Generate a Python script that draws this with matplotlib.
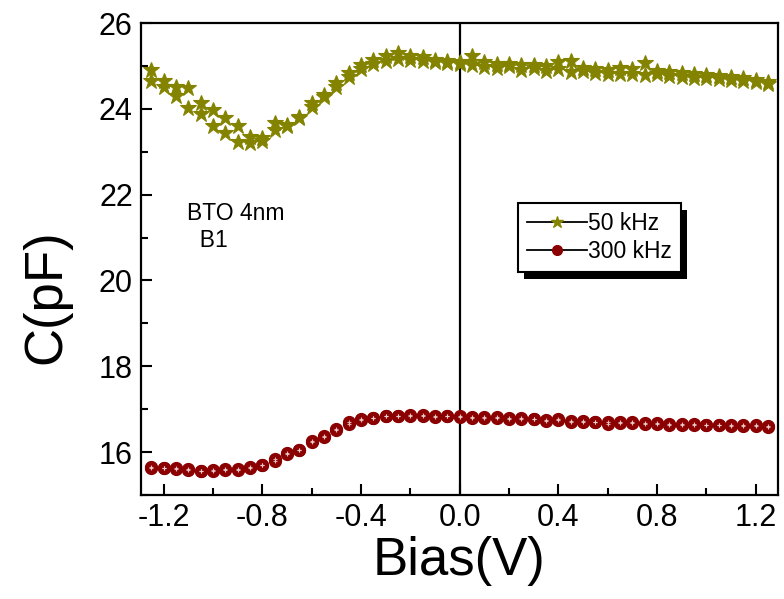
import matplotlib
matplotlib.use("Agg")
import matplotlib.pyplot as plt
from matplotlib.lines import Line2D
from matplotlib.patches import Rectangle
from matplotlib.ticker import MultipleLocator

plt.rcParams['font.family'] = ['Liberation Sans', 'DejaVu Sans']

# Bias sweep points (V)
bias = [-1.25, -1.20, -1.15, -1.10, -1.05, -1.00, -0.95, -0.90, -0.85, -0.80,
        -0.75, -0.70, -0.65, -0.60, -0.55, -0.50, -0.45, -0.40, -0.35, -0.30,
        -0.25, -0.20, -0.15, -0.10, -0.05, 0.00, 0.05, 0.10, 0.15, 0.20,
        0.25, 0.30, 0.35, 0.40, 0.45, 0.50, 0.55, 0.60, 0.65, 0.70,
        0.75, 0.80, 0.85, 0.90, 0.95, 1.00, 1.05, 1.10, 1.15, 1.20, 1.25]

# 50 kHz capacitance (pF), two sweep directions
c50_up = [24.91, 24.65, 24.50, 24.48, 24.13, 23.98, 23.78, 23.61, 23.35, 23.31,
          23.67, 23.63, 23.82, 24.13, 24.33, 24.60, 24.83, 25.01, 25.13, 25.22,
          25.29, 25.24, 25.21, 25.13, 25.11, 25.08, 25.22, 25.08, 25.05, 25.05,
          25.02, 25.03, 25.00, 25.10, 25.12, 24.95, 24.92, 24.90, 24.95, 24.92,
          25.07, 24.88, 24.85, 24.83, 24.80, 24.78, 24.76, 24.73, 24.72, 24.68, 24.63]
c50_down = [24.64, 24.50, 24.29, 24.02, 23.88, 23.59, 23.43, 23.22, 23.20, 23.25,
            23.51, 23.60, 23.78, 24.05, 24.28, 24.52, 24.74, 24.92, 25.04, 25.12,
            25.16, 25.14, 25.12, 25.08, 25.06, 25.05, 25.02, 24.98, 24.96, 24.99,
            24.90, 24.94, 24.88, 24.92, 24.86, 24.88, 24.84, 24.82, 24.80, 24.82,
            24.78, 24.80, 24.76, 24.74, 24.72, 24.72, 24.69, 24.68, 24.66, 24.62, 24.58]

# 300 kHz capacitance (pF), two sweep directions
c300_up = [15.65, 15.63, 15.62, 15.60, 15.57, 15.59, 15.60, 15.60, 15.65, 15.71,
           15.83, 15.98, 16.06, 16.26, 16.37, 16.53, 16.69, 16.76, 16.80, 16.84,
           16.84, 16.86, 16.86, 16.83, 16.84, 16.84, 16.82, 16.81, 16.81, 16.80,
           16.79, 16.78, 16.75, 16.76, 16.73, 16.72, 16.71, 16.70, 16.69, 16.69,
           16.68, 16.67, 16.66, 16.66, 16.65, 16.64, 16.63, 16.63, 16.62, 16.62, 16.61]
c300_down = [15.63, 15.62, 15.60, 15.58, 15.56, 15.57, 15.58, 15.59, 15.63, 15.70,
             15.80, 15.95, 16.05, 16.23, 16.36, 16.51, 16.66, 16.75, 16.79, 16.83,
             16.83, 16.85, 16.85, 16.82, 16.83, 16.82, 16.80, 16.79, 16.80, 16.78,
             16.77, 16.76, 16.73, 16.74, 16.71, 16.70, 16.69, 16.66, 16.67, 16.67,
             16.66, 16.65, 16.64, 16.64, 16.63, 16.62, 16.62, 16.61, 16.60, 16.60, 16.59]

series_labels = ['50 kHz', '300 kHz']
sample_lines = ['BTO 4nm', '  B1']
xticks = [-1.2, -0.8, -0.4, 0.0, 0.4, 0.8, 1.2]
yticks = [16, 18, 20, 22, 24, 26]

olive = '#838300'
darkred = '#8b0000'

fig = plt.figure(figsize=(7.84, 5.99), dpi=100)
ax = fig.add_axes([0.180, 0.1736, 0.812, 0.788])

for c in (c50_down, c50_up):
    ax.plot(bias, c, linestyle='none', marker='*', markersize=12,
            color=olive, markeredgewidth=0.8, zorder=3)

for c in (c300_down, c300_up):
    ax.plot(bias, c, linestyle='none', marker='o', markersize=8.5,
            markerfacecolor=darkred, markeredgecolor=darkred, zorder=3)
    ax.plot(bias, c, linestyle='none', marker='+', markersize=3,
            markeredgewidth=0.8, color='#f0d8d8', alpha=0.8, zorder=3.1)

ax.axvline(0.0, color='black', linewidth=1.6, zorder=2)

ax.set_xlim(-1.292, 1.29)
ax.set_ylim(15, 26)
ax.set_xticks(xticks)
ax.set_xticklabels([f'{t:.1f}' for t in xticks])
ax.set_yticks(yticks)
ax.xaxis.set_minor_locator(MultipleLocator(0.2))
ax.yaxis.set_minor_locator(MultipleLocator(1))
ax.tick_params(which='both', direction='in', top=False, right=False,
               width=1.5, labelsize=22)
ax.tick_params(which='major', length=8, pad=6)
ax.tick_params(which='minor', length=5)
for s in ax.spines.values():
    s.set_linewidth(1.6)

ax.set_xlabel('Bias(V)', fontsize=38, labelpad=2)
ax.set_ylabel('C(pF)', fontsize=38)
ax.yaxis.set_label_coords(-0.11, 0.42)

ax.text(-1.105, 21.57, sample_lines[0], fontsize=16.5, ha='left', va='center')
ax.text(-1.105, 20.94, sample_lines[1], fontsize=16.5, ha='left', va='center')

handles = [
    Line2D([], [], color='black', linewidth=1.3, marker='*', markersize=9,
           markerfacecolor=olive, markeredgecolor=olive),
    Line2D([], [], color='black', linewidth=1.3, marker='o', markersize=7,
           markerfacecolor=darkred, markeredgecolor=darkred),
]
leg = ax.legend(handles, series_labels, loc='upper left',
                bbox_to_anchor=(0.592, 0.619), borderaxespad=0,
                fontsize=16.5, frameon=True, fancybox=False, framealpha=1,
                edgecolor='black', handlelength=2.6, handletextpad=0.05,
                labelspacing=0.2, borderpad=0.4)
leg.get_frame().set_linewidth(1.5)
leg.set_zorder(6)

# drop shadow behind the legend box
fig.canvas.draw()
bb = leg.get_frame().get_window_extent(fig.canvas.get_renderer())
inv = ax.transAxes.inverted()
(x0, y0), (x1, y1) = inv.transform([(bb.x0 + 6, bb.y0 - 7), (bb.x1 + 6, bb.y1 - 7)])
ax.add_patch(Rectangle((x0, y0), x1 - x0, y1 - y0, transform=ax.transAxes,
                       facecolor='black', edgecolor='none', zorder=5,
                       clip_on=False))

fig.savefig('out.png', dpi=100)
